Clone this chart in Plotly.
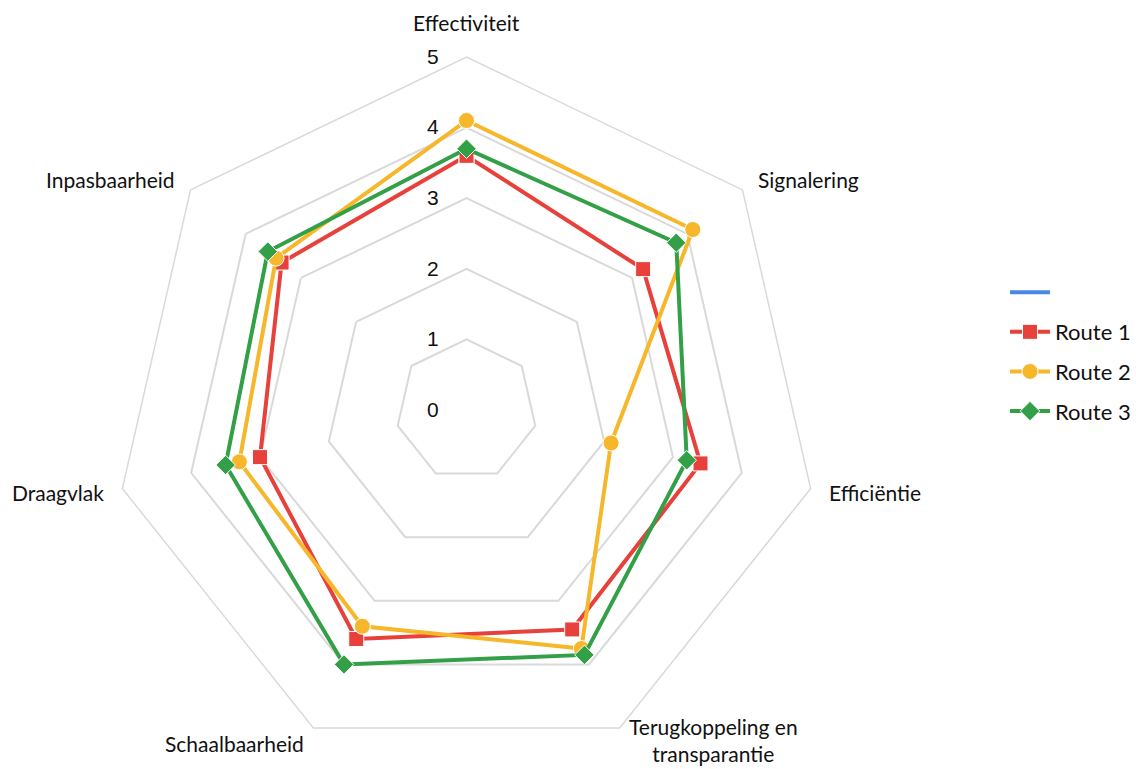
import math
import plotly.graph_objects as go

# Assessment criteria (clockwise from the top)
criteria = [
    "Effectiviteit",
    "Signalering",
    "Efficiëntie",
    "Terugkoppeling en<br>transparantie",
    "Schaalbaarheid",
    "Draagvlak",
    "Inpasbaarheid",
]

# Scores per route (0-5)
route1 = [3.6, 3.2, 3.4, 3.45, 3.6, 3.0, 3.35]
route2 = [4.1, 4.1, 2.1, 3.75, 3.4, 3.3, 3.45]
route3 = [3.7, 3.8, 3.2, 3.85, 4.0, 3.5, 3.6]

radial_ticks = [0, 1, 2, 3, 4, 5]

W, H = 1136, 769
GRID = "#D9D9D9"
TEXT = "#111111"

# Polar area: centre and outer radius in pixels
CX, CY, RAD = 466.5, 410.0, 353.0
polar_domain = dict(
    x=[(CX - RAD) / W, (CX + RAD) / W],
    y=[1 - (CY + RAD) / H, 1 - (CY - RAD) / H],
)


def closed(values):
    return values + values[:1]


theta = closed(criteria)

fig = go.Figure()

# Unlabelled series shown only in the legend
fig.add_trace(go.Scatterpolar(
    r=[None], theta=[criteria[0]], name=" ", mode="lines",
    line=dict(color="#4A86E8", width=4), legendgroup="a",
))

series = [
    ("Route 1", route1, "#E8403A", "square", 15, "b"),
    ("Route 2", route2, "#F6B72B", "circle", 16, "c"),
    ("Route 3", route3, "#33A047", "diamond", 15, "d"),
]
for name, vals, color, symbol, size, grp in series:
    fig.add_trace(go.Scatterpolar(
        r=closed(vals), theta=theta, name=name, mode="lines+markers",
        line=dict(color=color, width=4),
        marker=dict(symbol=symbol, size=size, color=color,
                    line=dict(color="white", width=1)),
        legendgroup=grp,
    ))

# Category labels just outside the outer polygon, anchored on the side
# facing away from the centre
label_r = RAD + 17
n = len(criteria)
for i, name in enumerate(criteria):
    ang = math.radians(90 - 360 * i / n)
    px = CX + label_r * math.cos(ang)
    py = CY - label_r * math.sin(ang)
    c = math.cos(ang)
    if abs(c) < 0.2:
        xanchor, yanchor, yshift = "center", "bottom", 3
    else:
        xanchor, yanchor = ("left" if c > 0 else "right"), "middle"
        yshift = 3 if "<br>" in name else 0
    fig.add_annotation(
        x=px / W, y=1 - py / H, xref="paper", yref="paper",
        text=name, showarrow=False, xanchor=xanchor, yanchor=yanchor,
        yshift=yshift, align="center",
        font=dict(family="Lato", size=21, color=TEXT),
    )

fig.update_layout(
    width=W, height=H,
    margin=dict(l=0, r=0, t=0, b=0),
    paper_bgcolor="white",
    plot_bgcolor="white",
    polar=dict(
        domain=polar_domain,
        bgcolor="white",
        gridshape="linear",
        radialaxis=dict(
            range=[0, 5], tickvals=radial_ticks, angle=90,
            side="counterclockwise", tickangle=90,
            showline=False, gridcolor=GRID, gridwidth=1.5,
            ticks="outside", ticklen=20, tickcolor="rgba(0,0,0,0)",
            tickfont=dict(family="Liberation Sans", size=21, color=TEXT),
        ),
        angularaxis=dict(
            direction="clockwise", rotation=90,
            showgrid=False, showline=True, linecolor=GRID, linewidth=1.5,
            showticklabels=False, ticks="",
        ),
    ),
    legend=dict(
        x=0.885, y=0.647, xanchor="left", yanchor="top",
        font=dict(family="Lato", size=22, color=TEXT),
        itemwidth=40, tracegroupgap=8, bgcolor="rgba(0,0,0,0)",
    ),
)

fig.write_html("out.html")
